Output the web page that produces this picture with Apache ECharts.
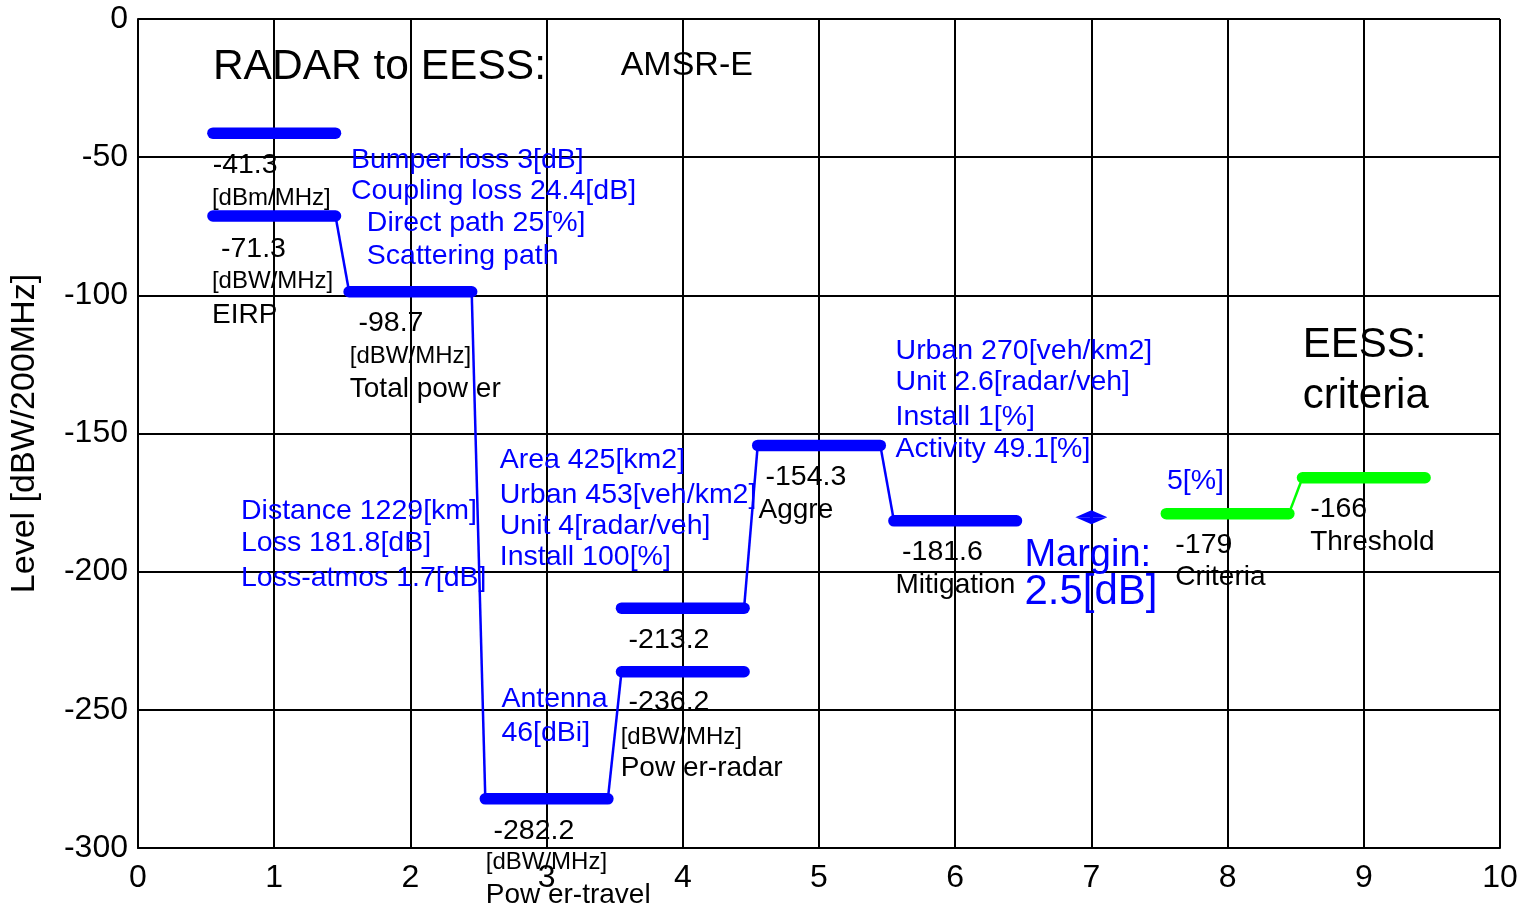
<!DOCTYPE html>
<html><head><meta charset="utf-8">
<script src="https://cdn.jsdelivr.net/npm/echarts@6/dist/echarts.min.js"></script>
<style>html,body{margin:0;padding:0;background:#fff}#c{width:1533px;height:909px}</style>
</head><body><div id="c"></div>
<script>
// ---- data ----
const xTickValues = [0,1,2,3,4,5,6,7,8,9,10];
const yTickValues = [0,-50,-100,-150,-200,-250,-300];
// blue link-budget steps
const levels    = [-41.3, -71.3, -98.7, -282.2, -236.2, -213.2, -154.3, -181.6];
const stepStart = [0.55, 0.55, 1.55, 2.55, 3.55, 3.55, 4.55, 5.55];
const stepEnd   = [1.45, 1.45, 2.45, 3.45, 4.45, 4.45, 5.45, 6.45];
const blueLinks = [[1,2],[2,3],[3,4],[5,6],[6,7]];
// green criteria steps
const critLevels = [-179, -166];
const critStart  = [7.55, 8.55];
const critEnd    = [8.45, 9.45];
const critLinks  = [[0,1]];
// margin marker
const marginX = 7;
const marginTop = -179;
const marginBottom = -181.6;

// annotations: [x, y, text] anchored in data coordinates (left edge, vertical middle)
const valueNotes = [
  [0.548,-52.8,'-41.3'],[0.609,-83.2,'-71.3'],[1.619,-110.0,'-98.7'],
  [2.610,-293.9,'-282.2'],[3.602,-224.7,'-213.2'],[3.602,-247.3,'-236.2'],
  [4.607,-165.7,'-154.3'],[5.610,-192.9,'-181.6'],[7.616,-190.4,'-179'],[8.606,-177.3,'-166']
];
const unitNotes = [
  [0.543,-64.8,'[dBm/MHz]'],[0.543,-94.8,'[dBW/MHz]'],[1.555,-122.0,'[dBW/MHz]'],
  [2.553,-305.1,'[dBW/MHz]'],[3.544,-260.0,'[dBW/MHz]']
];
const nameNotes = [
  [0.543,-107.1,'EIRP'],[1.555,-133.9,'Total pow er'],[2.553,-317.0,'Pow er-travel'],
  [3.544,-271.0,'Pow er-radar'],[4.556,-177.7,'Aggre'],[5.562,-205.1,'Mitigation'],
  [7.616,-202.1,'Criteria'],[8.606,-189.4,'Threshold']
];
const blueNotes = [
  [1.563,-51.0,'Bumper loss 3[dB]'],[1.563,-62.2,'Coupling loss 24.4[dB]'],
  [1.680,-73.8,'Direct path 25[%]'],[1.680,-85.8,'Scattering path'],
  [0.756,-178.0,'Distance 1229[km]'],[0.756,-189.6,'Loss 181.8[dB]'],[0.756,-202.3,'Loss-atmos 1.7[dB]'],
  [2.656,-159.6,'Area 425[km2]'],[2.656,-172.3,'Urban 453[veh/km2]'],
  [2.656,-183.5,'Unit 4[radar/veh]'],[2.656,-194.7,'Install 100[%]'],
  [2.668,-246.1,'Antenna'],[2.668,-258.4,'46[dBi]'],
  [5.562,-120.1,'Urban 270[veh/km2]'],[5.562,-131.5,'Unit 2.6[radar/veh]'],
  [5.562,-144.2,'Install 1[%]'],[5.562,-155.6,'Activity 49.1[%]'],
  [7.555,-167.1,'5[%]']
];
const marginNotes = [[6.508,-194.0,'Margin:'],[6.508,-207.5,'2.5[dB]']];
const titleNotes = [[0.550,-17.4,'RADAR to EESS:']];
const subtitleNotes = [[3.544,-17.0,'AMSR-E']];
const eessNotes = [[8.552,-118.0,'EESS:'],[8.552,-136.7,'criteria']];

// ---- build ----
const FONT = '"Liberation Sans", Arial, sans-serif';
const BLUE = '#0000ff';
const GREEN = '#00ff00';
const series = [];

function stepSeries(starts, ends, lv, color) {
  lv.forEach((y, i) => {
    series.push({
      type: 'line', symbol: 'none', silent: true, z: 5,
      lineStyle: { color, width: 11.5, cap: 'round', opacity: 1 },
      data: [[starts[i], y], [ends[i], y]]
    });
  });
}
function linkSeries(starts, ends, lv, links, color) {
  links.forEach(([a, b]) => {
    series.push({
      type: 'line', symbol: 'none', silent: true, z: 4,
      lineStyle: { color, width: 2.5, opacity: 1 },
      data: [[ends[a], lv[a]], [starts[b], lv[b]]]
    });
  });
}
stepSeries(stepStart, stepEnd, levels, BLUE);
linkSeries(stepStart, stepEnd, levels, blueLinks, BLUE);
stepSeries(critStart, critEnd, critLevels, GREEN);
linkSeries(critStart, critEnd, critLevels, critLinks, GREEN);

series.push({
  type: 'line', silent: true, z: 6,
  lineStyle: { color: BLUE, width: 3 },
  itemStyle: { color: BLUE, opacity: 1 },
  symbol: 'triangle', symbolSize: [32, 7],
  data: [
    { value: [marginX, marginTop], symbolRotate: 0 },
    { value: [marginX, marginBottom], symbolRotate: 180 }
  ]
});

function textSeries(notes, color, size) {
  series.push({
    type: 'scatter', symbolSize: 0, silent: true, clip: false, z: 10,
    itemStyle: { opacity: 1 },
    data: notes.map(n => ({ value: [n[0], n[1]], name: n[2] })),
    label: {
      show: true, position: 'right', distance: 0, formatter: '{b}', opacity: 1,
      color, fontSize: size, fontFamily: FONT
    }
  });
}
textSeries(valueNotes, '#000', 28.5);
textSeries(unitNotes, '#000', 24);
textSeries(nameNotes, '#000', 28);
textSeries(blueNotes, BLUE, 28.5);
textSeries(marginNotes.slice(0,1), BLUE, 38);
textSeries(marginNotes.slice(1), BLUE, 42);
textSeries(titleNotes, '#000', 42.5);
textSeries(subtitleNotes, '#000', 34);
textSeries(eessNotes, '#000', 42);

const chart = echarts.init(document.getElementById('c'), null, { renderer: 'canvas' });
chart.setOption({
  animation: false,
  backgroundColor: '#fff',
  grid: { left: 137, top: 19, width: 1363, height: 829, containLabel: false },
  xAxis: {
    type: 'value', min: xTickValues[0], max: xTickValues[xTickValues.length-1], interval: 1,
    axisLine: { show: true, onZero: false, lineStyle: { color: '#000', width: 2 } },
    axisTick: { show: false },
    splitLine: { show: true, lineStyle: { color: '#000', width: 2 } },
    axisLabel: { color: '#000', fontSize: 32, fontFamily: FONT, margin: 14 }
  },
  yAxis: {
    type: 'value', min: yTickValues[yTickValues.length-1], max: yTickValues[0], interval: 50,
    name: 'Level [dBW/200MHz]', nameLocation: 'middle', nameGap: 96,
    nameTextStyle: { color: '#000', fontSize: 34, fontFamily: FONT },
    axisLine: { show: true, onZero: false, lineStyle: { color: '#000', width: 2 } },
    axisTick: { show: false },
    splitLine: { show: true, lineStyle: { color: '#000', width: 2 } },
    axisLabel: { color: '#000', fontSize: 32, fontFamily: FONT, margin: 10 }
  },
  series
});
</script></body></html>
